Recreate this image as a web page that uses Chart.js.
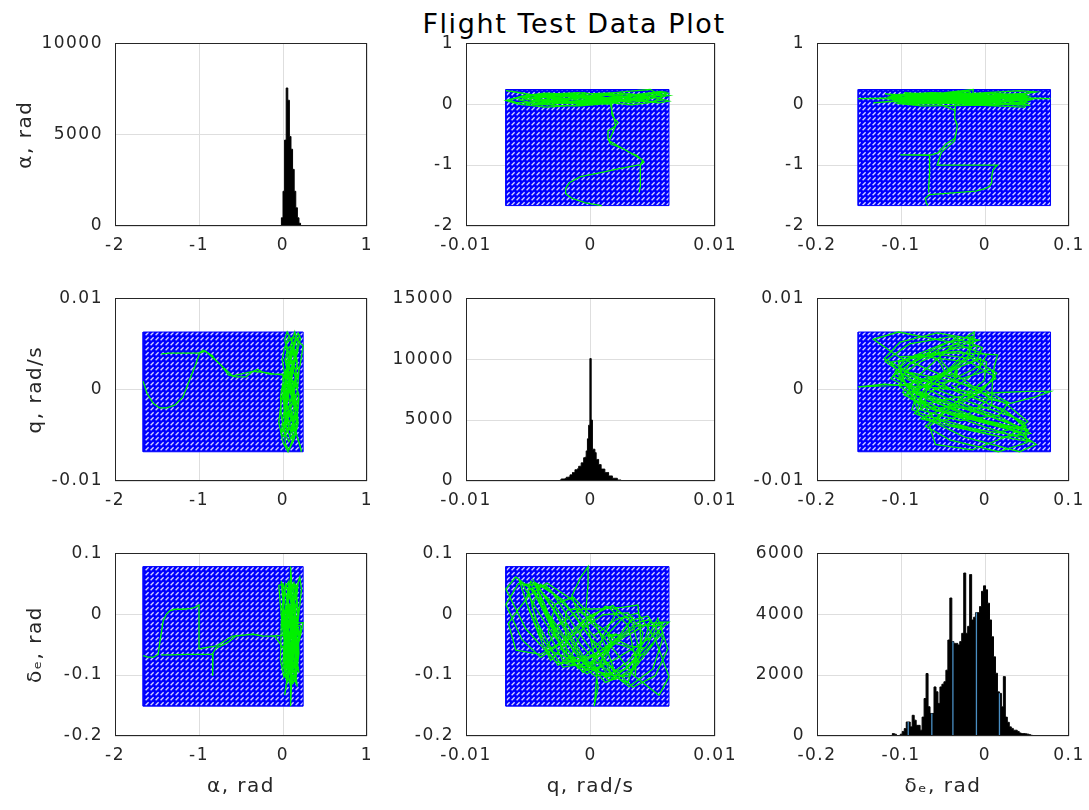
<!DOCTYPE html>
<html><head><meta charset="utf-8">
<script src="https://cdn.jsdelivr.net/npm/chart.js@4/dist/chart.umd.min.js"></script>
<style>
html,body{margin:0;padding:0;background:#fff;}
#fig{position:relative;width:1089px;height:810px;overflow:hidden;background:#fff;}
#fig canvas{position:absolute;}
#suptitle{position:absolute;left:324px;width:500px;top:10px;text-align:center;font-family:"DejaVu Sans";font-size:27px;line-height:27px;letter-spacing:1.6px;color:#000;white-space:nowrap;}
</style></head><body>
<div id="fig"><div id="suptitle">Flight Test Data Plot</div></div>
<script>
// ---------------- DATA ----------------
const figTitle = 'Flight Test Data Plot';
const varLabels = ['α, rad', 'q, rad/s', 'δₑ, rad'];

// tick values per variable (value axes) and per histogram (count axes)
const alphaTicks = [-2, -1, 0, 1];
const qTicks = [-0.01, 0, 0.01];
const deTicks = [-0.2, -0.1, 0, 0.1];
const alphaCountTicks = [0, 5000, 10000];
const qCountTicks = [0, 5000, 10000, 15000];
const deCountTicks = [0, 2000, 4000, 6000];

// time history, cruise part 1
const alphaCruise1 = [0.08,0.12,0.15,0.11,0.05,0.02,0.06,0.11,0.16,0.18, 0.13,0.07,0.03,0.01,0.05,0.10,0.14,0.12,0.08,0.04, 0.00,0.02,0.07,0.13,0.17,0.19,0.15,0.09,0.04,0.12, 0.24,0.20,0.13,0.06,0.02,-0.01,0.03,0.09,0.14,0.16, 0.12,0.07,0.04,0.06,0.10,0.15,0.17,0.13,0.06,0.00, -0.05,-0.02,0.04,0.09,0.13,0.18,0.21,0.16,0.10,0.05, 0.02,0.04,0.08,0.12,0.15,0.11,0.06,0.03,0.05,0.09, 0.14,0.19,0.17,0.12,0.07,0.02,-0.02,0.00,0.05,0.10, 0.14,0.17,0.13,0.08,0.04,0.02,0.05,0.08,0.04,0.01];
const qCruise1 = [0.0002,0.0021,0.0038,0.0052,0.0063,0.0055,0.0035,0.0010,-0.0015,-0.0035, -0.0050,-0.0066,-0.0060,-0.0040,-0.0015,0.0010,0.0030,0.0042,0.0038,0.0020, -0.0005,-0.0028,-0.0042,-0.0045,-0.0030,-0.0010,0.0012,0.0033,0.0050,0.0058, 0.0048,0.0025,0.0000,-0.0022,-0.0038,-0.0047,-0.0040,-0.0022,0.0000,0.0018, 0.0030,0.0036,0.0030,0.0014,-0.0006,-0.0025,-0.0040,-0.0055,-0.0068,-0.0058, -0.0036,-0.0012,0.0012,0.0034,0.0052,0.0062,0.0056,0.0038,0.0014,-0.0010, -0.0030,-0.0044,-0.0050,-0.0042,-0.0025,-0.0005,0.0015,0.0032,0.0044,0.0048, 0.0038,0.0020,-0.0002,-0.0024,-0.0040,-0.0052,-0.0048,-0.0030,-0.0008,0.0014, 0.0030,0.0040,0.0034,0.0018,-0.0002,-0.0020,-0.0032,-0.0036,-0.0026,-0.0010];
const deCruise1 = [-0.036,-0.008,0.002,-0.041,-0.103,-0.133,-0.101,-0.036,0.024,0.051, 0.030,-0.015,-0.059,-0.066,-0.036,-0.001,0.002,-0.030,-0.083,-0.107, -0.082,-0.023,0.035,0.052,0.008,-0.064,-0.112,-0.095,-0.050,-0.015, -0.014,-0.040,-0.080,-0.087,-0.042,0.013,0.049,0.023,-0.040,-0.101, -0.113,-0.072,-0.018,0.012,-0.011,-0.050,-0.071,-0.042,0.016,0.050, 0.047,-0.003,-0.077,-0.120,-0.101,-0.057,-0.019,-0.018,-0.053,-0.079, -0.062,-0.009,0.040,0.045,-0.005,-0.072,-0.109,-0.084,-0.041,-0.009, -0.013,-0.042,-0.074,-0.081,-0.036,0.021,0.054,0.018,-0.050,-0.098, -0.103,-0.069,-0.015,0.014,-0.004,-0.048,-0.076,-0.058,-0.019,0.006];

// excursion to large negative alpha
const alphaDown = [0.00,-0.16,-0.24,-0.30,-0.36,-0.44,-0.56,-0.65,-0.74,-0.80,-0.834,-0.834,-0.84,-0.91,-0.95,-1.00,-1.15,-1.35,-1.45];
const qDown = [0.0017,0.0017,0.0019,0.0022,0.0020,0.0014,0.0014,0.0016,0.0027,0.0032,0.0036,0.0036,0.0037,0.0041,0.0043,0.0040,0.0040,0.0040,0.0039];
const deDown = [-0.035,-0.036,-0.036,-0.034,-0.033,-0.034,-0.036,-0.046,-0.052,-0.056,-0.064,-0.101,-0.066,-0.066,-0.066,-0.066,-0.066,-0.067,-0.067];

const alphaBack = [-1.665,-1.62,-1.545,-1.486,-1.466,-1.427,-1.387,-1.348,-1.29,-1.19,-1.11,-1.05,-1.00,-1.00,-1.00,-0.92,-0.79,-0.60,-0.36,-0.24,-0.10];
const qBack = [0.0009,-0.0004,-0.0015,-0.0019,-0.0020,-0.0020,-0.0020,-0.0019,-0.0017,-0.0008,0.0011,0.0025,0.0038,0.0040,0.0040,0.0042,0.0031,0.0015,0.0020,0.0019,0.0017];
const deBack = [-0.068,-0.070,-0.071,-0.066,-0.046,-0.011,0.000,0.0055,0.008,0.008,0.009,0.011,0.015,-0.020,-0.057,-0.055,-0.052,-0.036,-0.033,-0.036,-0.036];

// cruise part 2
const alphaCruise2 = [0.00,0.05,0.09,0.14,0.18,0.15,0.09,0.04,0.01,0.03, 0.08,0.13,0.16,0.14,0.09,0.05,0.02,0.05,0.10,0.15, 0.20,0.22,0.17,0.11,0.06,0.02,-0.01,0.02,0.07,0.12, 0.17,0.14,0.09,0.05,0.07,0.11,0.15,0.19,0.16,0.11, 0.06,0.03,0.01,0.04,0.09,0.13,0.11,0.07,0.03,-0.02, -0.03,0.01,0.06,0.11,0.16,0.19,0.15,0.10,0.06,0.03, 0.05,0.09,0.13,0.17,0.14,0.09,0.05,0.02,0.04,0.08, 0.12,0.15,0.11,0.07,0.04,0.06,0.09,0.12,0.10,0.08];
const qCruise2 = [0.0016,0.0009,-0.0004,-0.0021,-0.0037,-0.0048,-0.0054,-0.0041,-0.0020,0.0004, 0.0027,0.0045,0.0055,0.0063,0.0048,0.0018,-0.0003,-0.0019,-0.0033,-0.0046, -0.0060,-0.0068,-0.0052,-0.0028,-0.0005,0.0017,0.0033,0.0046,0.0058,0.0050, 0.0031,0.0010,-0.0012,-0.0030,-0.0044,-0.0038,-0.0022,-0.0006,0.0003,0.0011, 0.0022,0.0012,-0.0005,-0.0015,-0.0026,-0.0039,-0.0050,-0.0057,-0.0049,-0.0029, -0.0008,0.0013,0.0030,0.0046,0.0054,0.0058,0.0040,0.0020,-0.0002,-0.0020, -0.0035,-0.0045,-0.0036,-0.0025,-0.0010,0.0007,0.0022,0.0034,0.0026,0.0010, -0.0008,-0.0022,-0.0034,-0.0028,-0.0014,0.0002,0.0014,0.0020,0.0012,0.0000];
const deCruise2 = [-0.055,-0.085,-0.093,-0.052,0.007,0.049,0.047,0.000,-0.063,-0.102, -0.091,-0.052,-0.013,-0.013,-0.039,-0.076,-0.098,-0.074,-0.015,0.038, 0.061,0.041,-0.024,-0.078,-0.087,-0.050,-0.010,-0.003,-0.040,-0.090, -0.119,-0.086,-0.023,0.033,0.051,0.008,-0.057,-0.096,-0.077,-0.032, 0.007,0.013,-0.017,-0.066,-0.084,-0.047,0.010,0.054,0.044,-0.013, -0.075,-0.103,-0.078,-0.038,-0.007,-0.030,-0.069,-0.102,-0.089,-0.028, 0.026,0.052,0.012,-0.050,-0.089,-0.079,-0.038,-0.005,-0.006,-0.041, -0.075,-0.077,-0.030,0.017,0.028,-0.006,-0.063,-0.097,-0.077,-0.040];

// elevator doublet at small pitch rate
const alphaDoublet = [0.10,0.09,0.09,0.10,0.11,0.10,0.09,0.09,0.10,0.11,0.12,0.11,0.10];
const qDoublet = [0.0012,0.0005,0.0003,0.0006,0.0002,-0.0004,-0.0002,-0.0002,-0.0008,-0.0015,-0.0010,0.0000,0.0005];
const deDoublet = [-0.060,-0.100,-0.151,-0.120,-0.060,0.000,0.050,0.078,0.060,0.030,0.000,-0.030,-0.040];

// histograms (bin centres and counts)
const alphaBins = [-0.0285,-0.0095,0.0095,0.0285,0.0475,0.0665,0.0855,0.1045,0.1235,0.1425,0.1615,0.1805,0.1995,0.2185];
const alphaCounts = [0,450,1900,4700,7550,6880,4900,4200,3100,1900,1000,450,150,0];

const qBins = [-0.0026,-0.0025,-0.0024,-0.0023,-0.0022,-0.0021,-0.0020,-0.0019,-0.0018,-0.0017,-0.0016,-0.0015,-0.0014,-0.0013,-0.0012,-0.0011,-0.0010,-0.0009,-0.0008,-0.0007,-0.0006,-0.0005,-0.0004,-0.0003,-0.0002,-0.0001,0,0.0001,0.0002,0.0003,0.0004,0.0005,0.0006,0.0007,0.0008,0.0009,0.0010,0.0011,0.0012,0.0013,0.0014,0.0015,0.0016,0.0017,0.0018,0.0019,0.0020,0.0021,0.0022,0.0023,0.0024,0.0025,0.0026];
const qCounts = [0,40,85,170,170,170,200,310,310,330,505,505,700,700,930,930,1000,1210,1210,1490,1490,1910,1950,2470,3460,4580,10050,5000,2610,2610,2330,1770,1770,1350,1350,980,980,980,700,700,700,420,420,420,225,225,225,225,85,85,85,40,0];

const deBins = [-0.1115,-0.1091,-0.1067,-0.1044,-0.1020,-0.0997,-0.0973,-0.0949,-0.0926,-0.0902, -0.0879,-0.0855,-0.0831,-0.0808,-0.0784,-0.0761,-0.0737,-0.0713,-0.0690,-0.0666, -0.0643,-0.0619,-0.0595,-0.0572,-0.0548,-0.0525,-0.0501,-0.0477,-0.0454,-0.0430, -0.0407,-0.0383,-0.0359,-0.0336,-0.0312,-0.0289,-0.0265,-0.0241,-0.0218,-0.0194, -0.0171,-0.0147,-0.0123,-0.0100,-0.0076,-0.0053,-0.0029,-0.0005,0.0018,0.0042, 0.0065,0.0089,0.0113,0.0136,0.0160,0.0183,0.0207,0.0230,0.0254,0.0277, 0.0301,0.0325,0.0348,0.0372,0.0395,0.0419,0.0443,0.0466,0.0490,0.0513, 0.0537,0.0560,0.0584];
const deCounts = [0,80,60,10,10,60,150,243,460,460, 300,680,520,350,350,190,620,1230,2050,960, 740,740,1610,1450,1070,1610,1700,1780,2160,3150, 4530,3100,3040,3040,2990,3100,3370,5350,3370,3600, 5300,3810,3900,4050,4050,4250,4750,4930,4800,4360, 3810,3260,2600,2060,1450,1400,960,1950,620,450, 300,250,190,190,150,100,80,80,70,60, 40,20,0];
const deFaceBins = [-0.0914,-0.0633,-0.0382,-0.0102,0.0172];
const deFaceCounts = [460,740,3100,4050,1400];

// ---------------- STYLE / LAYOUT ----------------
const PLOT_W = 252, PLOT_H = 183;
const colLeft = [115, 466, 817];
const rowTop = [43, 298, 553];
const PAD_L = 115, PAD_T = 22, PAD_R = 28, PAD_B = 72;
const TXT = '#262626', GRID = '#dedede', FRAME = '#262626';
const TICK_FONT = {family: 'DejaVu Sans', size: 17};
const LABEL_FONT = {family: 'DejaVu Sans', size: 20};
const yTitlePad = [14, 24, 24];

const fig = document.getElementById('fig');
document.getElementById('suptitle').textContent = figTitle;

const alpha = [...alphaCruise1, ...alphaDown, null, ...alphaBack, ...alphaCruise2, ...alphaDoublet];
const q = [...qCruise1, ...qDown, null, ...qBack, ...qCruise2, ...qDoublet];
const de = [...deCruise1, ...deDown, null, ...deBack, ...deCruise2, ...deDoublet];
const series = [alpha, q, de];
const valueTicks = [alphaTicks, qTicks, deTicks];
const countTicks = [alphaCountTicks, qCountTicks, deCountTicks];
const hists = [[alphaBins, alphaCounts], [qBins, qCounts], [deBins, deCounts]];

function makeHatch() {
  const c = document.createElement('canvas');
  c.width = 5; c.height = 5;
  const g = c.getContext('2d');
  g.fillStyle = '#0000ff'; g.fillRect(0, 0, 5, 5);
  g.strokeStyle = 'rgba(235,235,255,0.9)'; g.lineWidth = 1.3;
  g.beginPath(); g.moveTo(0.6, 4.2); g.lineTo(3.6, 1.2); g.stroke();
  return g.createPattern(c, 'repeat');
}

const fmt = v => String(Math.round(v * 1e6) / 1e6);

const framePlugin = {
  id: 'frame',
  afterDraw(chart) {
    const {ctx, chartArea: a} = chart;
    ctx.save();
    ctx.strokeStyle = FRAME; ctx.lineWidth = 1;
    ctx.strokeRect(Math.round(a.left) + 0.5, Math.round(a.top) + 0.5, Math.round(a.right - a.left) - 1, Math.round(a.bottom - a.top) - 1);
    ctx.restore();
  }
};
const spacingPlugin = {
  id: 'spacing',
  beforeLayout(chart) { chart.ctx.letterSpacing = '1.5px'; },
  beforeDraw(chart) { chart.ctx.letterSpacing = '1.5px'; }
};

function addChart(r, c, datasets, xTicks, yTicks) {
  const cv = document.createElement('canvas');
  const w = PAD_L + PLOT_W + PAD_R, h = PAD_T + PLOT_H + PAD_B;
  cv.width = w; cv.height = h;
  cv.style.left = (colLeft[c] - PAD_L) + 'px';
  cv.style.top = (rowTop[r] - PAD_T) + 'px';
  cv.style.width = w + 'px'; cv.style.height = h + 'px';
  fig.appendChild(cv);
  const xTitle = r === 2 ? varLabels[c] : null;
  const yTitle = c === 0 ? varLabels[r] : null;
  new Chart(cv, {
    type: 'scatter',
    data: {datasets},
    options: {
      responsive: false, animation: false, devicePixelRatio: 1,
      layout: {padding: {left: 0, top: PAD_T, right: PAD_R, bottom: 0}},
      plugins: {legend: {display: false}, tooltip: {enabled: false}},
      scales: {
        x: {
          type: 'linear', min: xTicks[0], max: xTicks[xTicks.length - 1],
          afterBuildTicks: s => { s.ticks = xTicks.map(v => ({value: v})); },
          afterFit: s => { s.height = PAD_B; },
          grid: {color: GRID, drawTicks: false, lineWidth: 1},
          border: {display: false},
          ticks: {padding: 9, font: TICK_FONT, color: TXT, callback: fmt, maxRotation: 0, autoSkip: false},
          title: {display: !!xTitle, text: xTitle || '', font: LABEL_FONT, color: TXT, padding: {top: 0, bottom: 9}}
        },
        y: {
          type: 'linear', min: yTicks[0], max: yTicks[yTicks.length - 1],
          afterBuildTicks: s => { s.ticks = yTicks.map(v => ({value: v})); },
          afterFit: s => { s.width = PAD_L; },
          grid: {color: GRID, drawTicks: false, lineWidth: 1},
          border: {display: false},
          ticks: {padding: 12, font: TICK_FONT, color: TXT, callback: fmt, autoSkip: false},
          title: {display: !!yTitle, text: yTitle || '', font: LABEL_FONT, color: TXT, padding: {top: yTitlePad[r], bottom: 0}}
        }
      }
    },
    plugins: [framePlugin, spacingPlugin]
  });
}

const hatch = makeHatch();
const finite = a => a.filter(v => v !== null);

for (let r = 0; r < 3; r++) {
  for (let c = 0; c < 3; c++) {
    let datasets;
    if (r === c) {
      const [bins, counts] = hists[r];
      datasets = [{
        data: bins.map((b, i) => ({x: b, y: counts[i]})),
        showLine: true, stepped: 'middle', fill: 'origin',
        borderColor: '#000', borderWidth: 1, backgroundColor: '#000', pointRadius: 0, order: 2
      }];
      if (r === 2) {
        const pts = [];
        deFaceBins.forEach((b, i) => { pts.push({x: b, y: 0}, {x: b, y: deFaceCounts[i]}, {x: null, y: null}); });
        datasets.push({data: pts, showLine: true, borderColor: '#4a8fc4', borderWidth: 1.3, pointRadius: 0, fill: false, order: 1, spanGaps: false});
      }
      addChart(r, c, datasets, valueTicks[c], countTicks[r]);
    } else {
      const xs = series[c], ys = series[r];
      const pts = xs.map((v, i) => (v === null ? {x: null, y: null} : {x: v, y: ys[i]}));
      const x0 = Math.min(...finite(xs)), x1 = Math.max(...finite(xs));
      const y0 = Math.min(...finite(ys)), y1 = Math.max(...finite(ys));
      const rect = [{x: x0, y: y0}, {x: x1, y: y0}, {x: x1, y: y1}, {x: x0, y: y1}, {x: x0, y: y0}];
      datasets = [
        {data: pts, showLine: true, borderColor: '#00f000', borderWidth: 1.3, pointRadius: 0, fill: false, order: 1, spanGaps: false},
        {data: rect, showLine: true, borderColor: '#0000ff', borderWidth: 1, backgroundColor: hatch, fill: 'shape', pointRadius: 0, order: 2}
      ];
      addChart(r, c, datasets, valueTicks[c], valueTicks[r]);
    }
  }
}
</script></body></html>
